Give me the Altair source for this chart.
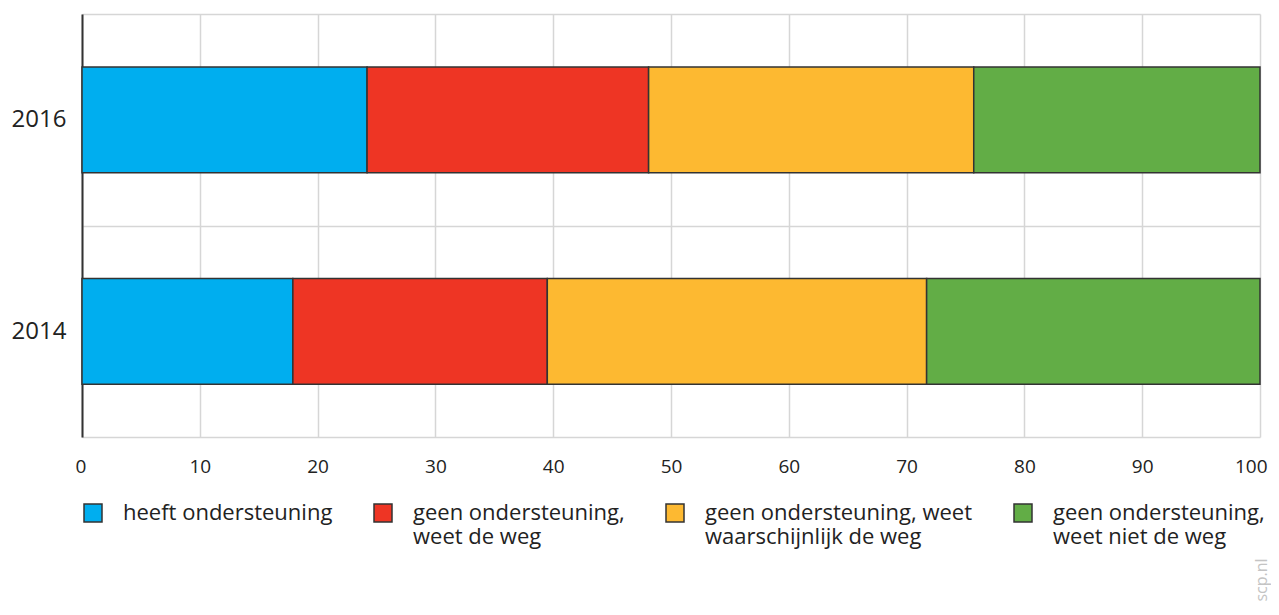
import altair as alt
import pandas as pd

years = ["2016", "2014"]
categories = [
    "heeft ondersteuning",
    "geen ondersteuning, weet de weg",
    "geen ondersteuning, weet waarschijnlijk de weg",
    "geen ondersteuning, weet niet de weg",
]
legend_lines = [
    ["heeft ondersteuning", " "],
    ["geen ondersteuning,", "weet de weg"],
    ["geen ondersteuning, weet", "waarschijnlijk de weg"],
    ["geen ondersteuning,", "weet niet de weg"],
]
colors = ["#00AEEF", "#EE3524", "#FDB931", "#62AD46"]
values_2016 = [24.2, 23.9, 27.6, 24.3]
values_2014 = [17.9, 21.6, 32.2, 28.3]
x_ticks = [0, 10, 20, 30, 40, 50, 60, 70, 80, 90, 100]

rows = []
for year, vals in zip(years, [values_2016, values_2014]):
    for i, (cat, v) in enumerate(zip(categories, vals)):
        rows.append({"jaar": year, "categorie": cat, "waarde": v, "volgorde": i})
df = pd.DataFrame(rows)

parts = []
for cat, lines in zip(categories, legend_lines):
    arr = "[" + ",".join("'" + l + "'" for l in lines) + "]"
    parts.append(f"datum.label === '{cat}' ? {arr}")
label_expr = " : ".join(parts) + " : datum.label"

FONT = "Open Sans"

bars = alt.Chart(df).mark_bar(
    stroke="#333333", strokeWidth=1.5, height={"band": 0.5}
).encode(
    y=alt.Y(
        "jaar:N",
        sort=years,
        title=None,
        scale=alt.Scale(paddingInner=0, paddingOuter=0),
        axis=alt.Axis(
            grid=True,
            gridColor="#d6d6d6",
            gridWidth=1.5,
            tickBand="extent",
            ticks=False,
            domain=True,
            domainColor="#333333",
            domainWidth=2,
            labelPadding=16,
            labelFontSize=24,
            labelFont=FONT,
            labelColor="#222222",
        ),
    ),
    x=alt.X(
        "waarde:Q",
        stack="zero",
        title=None,
        scale=alt.Scale(domain=[0, 100], nice=False),
        axis=alt.Axis(
            values=x_ticks,
            grid=True,
            gridColor="#d6d6d6",
            gridWidth=1.5,
            ticks=False,
            domain=False,
            labelPadding=20,
            labelFontSize=19,
            labelFont=FONT,
            labelColor="#222222",
            labelFlush=True,
            labelFlushOffset=7,
        ),
    ),
    fill=alt.Fill(
        "categorie:N",
        scale=alt.Scale(domain=categories, range=colors),
        legend=alt.Legend(
            title=None,
            orient="none",
            legendX=0,
            legendY=488,
            direction="horizontal",
            columns=4,
            columnPadding=38,
            symbolType="square",
            symbolSize=324,
            symbolStrokeColor="#333333",
            symbolStrokeWidth=1.5,
            symbolOpacity=1,
            labelOffset=19,
            labelFontSize=22,
            labelFont=FONT,
            labelColor="#222222",
            labelLimit=500,
            labelExpr=label_expr,
            labelBaseline="middle",
        ),
    ),
    order=alt.Order("volgorde:Q"),
)

mark_df = pd.DataFrame({"t": ["scp.nl"]})
watermark = alt.Chart(mark_df).mark_text(
    angle=270, color="#c4c4c4", fontSize=16, font=FONT, align="center", baseline="middle"
).encode(x=alt.value(1180), y=alt.value(566), text="t:N")

chart = alt.layer(bars, watermark).properties(
    width=1178,
    height=423,
    autosize=alt.AutoSizeParams(type="none"),
    padding={"left": 74, "top": 6, "right": 11, "bottom": 170},
).configure_view(stroke=None)

chart.save("out.html", embed_options={"renderer": "svg", "actions": False})
